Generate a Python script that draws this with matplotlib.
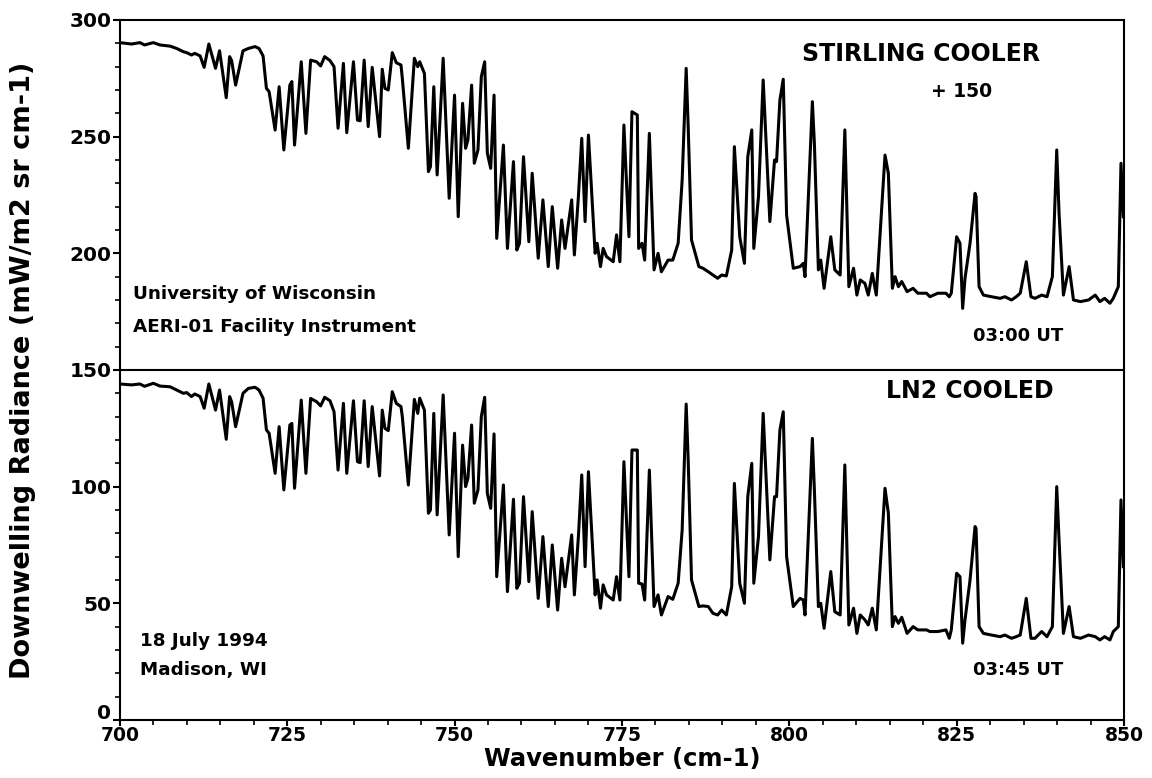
import numpy as np
import matplotlib.pyplot as plt
from matplotlib.ticker import MultipleLocator
from matplotlib.transforms import offset_copy

plt.rcParams['font.family'] = ['DejaVu Sans']
plt.rcParams['font.weight'] = 'bold'

# Wavenumber of each spectrum vertex (cm-1)
wavenumber = [
    700.0, 701.75, 703.0, 703.7, 705.0, 706.0, 707.5, 708.5, 709.5, 710.0,
    710.7, 711.2, 712.0, 712.6, 713.3, 714.3, 714.9, 715.9, 716.4, 716.7,
    717.3, 718.4, 719.2, 720.2, 720.8, 721.4, 721.9, 722.3, 723.2, 723.8,
    724.5, 725.4, 725.7, 726.1, 727.1, 727.8, 728.5, 729.4, 730.0, 730.6,
    731.4, 732.0, 732.6, 733.4, 733.9, 734.9, 735.5, 735.9, 736.5, 737.1,
    737.7, 738.8, 739.2, 739.6, 740.1, 740.7, 741.3, 742.0, 742.2, 743.1,
    744.0, 744.5, 744.8, 745.5, 746.1, 746.4, 746.9, 747.4, 748.3, 749.2,
    750.0, 750.55, 751.2, 751.65, 752.0, 752.55, 752.95, 753.5, 754.0, 754.5,
    754.9, 755.4, 755.9, 756.3, 757.3, 757.9, 758.8, 759.3, 759.7, 760.3,
    761.1, 761.6, 762.5, 763.2, 764.0, 764.6, 765.4, 766.0, 766.5, 767.5,
    767.9, 768.5, 769.0, 769.5, 770.0, 771.0, 771.3, 771.8, 772.2, 772.7,
    773.7, 774.2, 774.7, 775.3, 776.05, 776.5, 777.3, 777.5, 778.0, 778.4,
    779.1, 779.8, 780.4, 780.9, 781.9, 782.6, 783.4, 784.0, 784.6, 784.9,
    785.4, 786.5, 787.1, 787.9, 788.6, 789.3, 789.9, 790.6, 791.4, 791.8,
    792.6, 793.3, 793.8, 794.4, 794.7, 795.4, 796.1, 797.1, 797.8, 798.1,
    798.6, 799.1, 799.6, 800.6, 801.6, 802.1, 802.35, 803.45, 803.75, 804.35,
    804.7, 805.2, 806.2, 806.8, 807.6, 808.3, 808.9, 809.6, 810.1, 810.6,
    811.3, 811.8, 812.4, 813.0, 814.3, 814.8, 815.4, 815.8, 816.3, 816.8,
    817.6, 818.5, 819.2, 820.5, 821.0, 822.2, 823.4, 823.9, 824.2, 825.0,
    825.5, 825.9, 826.25, 827.0, 827.75, 827.9, 828.35, 829.0, 830.2, 831.5,
    832.2, 833.2, 833.9, 834.5, 835.4, 836.1, 836.7, 837.7, 838.5, 839.3,
    839.95, 840.3, 840.95, 841.8, 842.45, 843.5, 844.7, 845.7, 846.4, 847.1,
    847.9, 848.4, 849.15, 849.55, 849.9,
]

# Stirling cooler spectrum, already shifted by +150
stirling = [
    290.3, 289.7, 290.3, 289.3, 290.3, 289.3, 288.8, 287.8, 286.4, 286.0,
    285.0, 285.7, 284.6, 279.7, 289.7, 279.3, 286.8, 266.7, 284.3, 282.6,
    272.1, 286.8, 287.8, 288.6, 287.8, 284.6, 270.7, 269.3, 252.8, 271.4,
    244.3, 272.1, 273.6, 246.4, 282.1, 251.4, 282.8, 282.1, 280.3, 284.3,
    282.6, 280.0, 253.6, 281.4, 251.7, 282.1, 257.1, 256.8, 282.8, 254.3,
    279.7, 250.0, 278.9, 270.7, 270.0, 286.0, 281.7, 280.7, 275.0, 245.0,
    283.6, 280.0, 282.1, 277.1, 235.0, 237.1, 271.4, 233.6, 283.6, 223.6,
    267.8, 215.7, 264.3, 245.0, 248.6, 272.1, 238.6, 244.3, 275.7, 282.1,
    242.9, 236.4, 267.8, 206.4, 246.4, 202.1, 239.3, 201.4, 204.3, 241.4,
    205.0, 234.3, 197.9, 222.9, 194.3, 220.0, 193.6, 214.3, 202.1, 222.9,
    199.3, 224.3, 249.3, 213.6, 250.7, 200.0, 204.3, 194.3, 202.1, 198.6,
    196.4, 207.9, 196.4, 255.0, 207.1, 260.7, 259.3, 202.1, 204.3, 197.1,
    251.4, 192.9, 200.0, 192.1, 197.1, 197.1, 204.3, 231.4, 279.3, 254.3,
    205.7, 194.3, 193.6, 192.1, 190.7, 189.3, 190.7, 190.3, 201.4, 245.7,
    207.1, 195.7, 241.4, 252.9, 202.1, 224.3, 274.3, 213.6, 240.0, 239.3,
    265.7, 274.6, 216.4, 193.6, 194.3, 195.7, 190.0, 265.0, 247.1, 192.9,
    197.1, 185.0, 207.1, 192.9, 190.7, 252.9, 185.7, 193.6, 182.1, 188.6,
    187.1, 182.1, 191.4, 182.1, 242.1, 234.3, 185.0, 190.0, 185.7, 187.9,
    183.6, 185.0, 182.9, 182.9, 181.4, 182.9, 182.9, 181.4, 182.9, 207.1,
    204.3, 176.4, 189.3, 204.3, 225.7, 224.3, 185.7, 182.1, 181.4, 180.7,
    181.4, 180.0, 181.4, 182.9, 196.4, 181.4, 180.7, 182.1, 181.4, 190.0,
    244.3, 217.1, 182.1, 194.3, 180.0, 179.3, 180.0, 182.1, 179.3, 180.7,
    178.6, 180.7, 185.7, 238.6, 215.7,
]

# LN2 cooled spectrum
ln2 = [
    144.0, 143.6, 144.0, 143.0, 144.3, 143.1, 142.8, 141.4, 140.0, 140.3,
    138.6, 139.7, 138.6, 133.6, 144.0, 132.8, 141.4, 120.3, 138.6, 136.4,
    125.7, 140.0, 142.1, 142.6, 141.4, 137.9, 124.3, 122.9, 105.7, 125.7,
    98.6, 126.4, 127.1, 99.3, 137.1, 105.7, 137.8, 136.4, 134.6, 138.3,
    136.8, 132.1, 107.1, 135.7, 105.7, 136.8, 110.7, 110.3, 136.8, 108.6,
    134.3, 104.6, 132.8, 125.0, 124.0, 140.7, 135.7, 134.3, 130.0, 100.7,
    137.4, 131.4, 137.9, 132.8, 88.6, 90.0, 131.4, 87.9, 139.3, 79.3,
    122.9, 70.0, 117.8, 100.0, 103.6, 126.4, 92.9, 98.6, 130.0, 138.3,
    97.1, 90.7, 122.6, 61.4, 100.7, 55.0, 94.6, 56.4, 58.6, 95.7,
    59.3, 89.3, 52.1, 78.6, 48.6, 75.0, 47.1, 69.3, 57.1, 79.3,
    53.6, 78.6, 105.0, 65.7, 106.4, 53.6, 60.0, 47.9, 57.9, 53.6,
    51.4, 61.4, 51.4, 110.7, 61.4, 115.7, 115.7, 58.6, 58.3, 51.4,
    107.1, 48.6, 53.6, 45.0, 52.9, 51.7, 58.6, 81.4, 135.4, 111.4,
    60.0, 48.6, 48.9, 48.6, 45.7, 45.0, 47.1, 45.0, 57.1, 101.4,
    58.6, 50.0, 95.7, 110.0, 58.6, 78.6, 131.4, 68.6, 95.7, 95.7,
    124.3, 132.1, 70.0, 48.6, 52.1, 51.4, 45.0, 120.7, 98.6, 48.6,
    50.0, 39.3, 63.6, 46.4, 45.0, 109.3, 40.7, 47.9, 37.1, 45.0,
    42.9, 40.7, 47.9, 38.6, 99.3, 88.6, 40.0, 44.3, 41.4, 44.0,
    37.1, 40.0, 38.6, 38.6, 37.9, 37.9, 38.6, 35.0, 38.6, 62.9,
    61.4, 32.9, 42.9, 60.0, 82.9, 82.1, 40.0, 37.1, 36.4, 35.7,
    36.4, 35.0, 35.7, 36.4, 52.1, 35.0, 35.0, 37.9, 35.7, 40.0,
    100.0, 77.1, 37.1, 48.6, 35.7, 35.0, 36.4, 35.7, 34.3, 35.7,
    34.3, 37.9, 40.0, 94.3, 65.7,
]

fig = plt.figure(figsize=(11.52, 7.78), dpi=100)
ax = fig.add_axes([0.104, 0.0746, 0.8717, 0.8997])

ax.plot(wavenumber, stirling, color='black', lw=2.2)
ax.plot(wavenumber, ln2, color='black', lw=2.2)
ax.axhline(150, color='black', lw=1.5)

ax.set_xlim(700, 850)
ax.set_ylim(0, 300)
ax.xaxis.set_major_locator(MultipleLocator(25))
ax.xaxis.set_minor_locator(MultipleLocator(5))
ax.yaxis.set_major_locator(MultipleLocator(50))
ax.yaxis.set_minor_locator(MultipleLocator(10))
ax.tick_params(which='major', direction='out', width=1.5)
ax.tick_params(which='minor', direction='out', length=3.5, width=1.2)
ax.tick_params(axis='x', which='major', length=4, pad=0, labelsize=13.5)
ax.tick_params(axis='y', which='major', length=5, pad=1, labelsize=14.5)
for s in ax.spines.values():
    s.set_linewidth(1.5)

ax.set_xlabel('Wavenumber (cm-1)', fontsize=17.5, fontweight='bold')
ax.xaxis.set_label_coords(0.5, -0.039)
ax.set_ylabel('Downwelling Radiance (mW/m2 sr cm-1)', fontsize=19.5, fontweight='bold')
ax.yaxis.set_label_coords(-0.083, 0.5)

# annotations
ax.text(819.7, 285.6, 'STIRLING COOLER', fontsize=17, ha='center', va='center')
ax.text(825.8, 269.4, '+ 150', fontsize=13.5, ha='center', va='center')
ax.text(702, 182.4, 'University of Wisconsin', fontsize=13.2, ha='left', va='center')
ax.text(702, 168.5, 'AERI-01 Facility Instrument', fontsize=13.2, ha='left', va='center')
ax.text(834.2, 164.5, '03:00 UT', fontsize=13, ha='center', va='center')
ax.text(826.9, 140.8, 'LN2 COOLED', fontsize=17, ha='center', va='center')
ax.text(703, 34.0, '18 July 1994', fontsize=13.2, ha='left', va='center')
ax.text(703, 21.4, 'Madison, WI', fontsize=13.2, ha='left', va='center')
ax.text(834.2, 21.4, '03:45 UT', fontsize=13, ha='center', va='center')

# lift the "0" label a little so it clears the "700" label
fig.canvas.draw()
for tick in ax.yaxis.get_major_ticks():
    if abs(tick.get_loc()) < 1e-9:
        lab = tick.label1
        lab.set_transform(offset_copy(lab.get_transform(), fig=fig, x=0, y=8, units='dots'))

fig.savefig('out.png', dpi=100)
